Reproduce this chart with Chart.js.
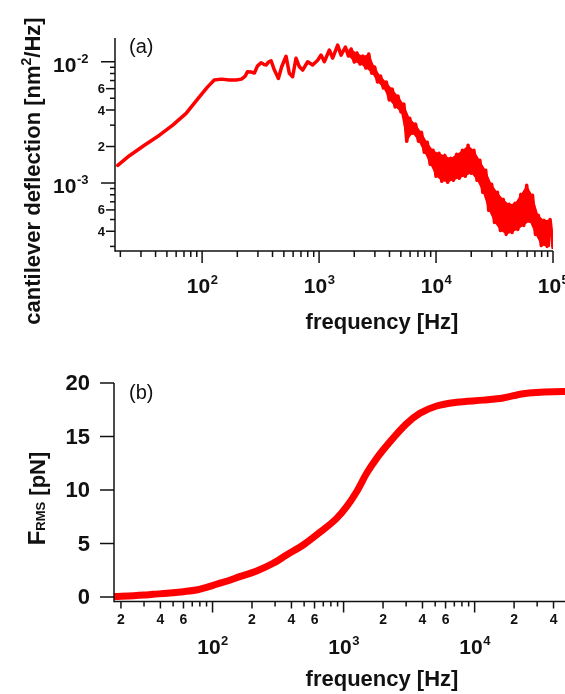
<!DOCTYPE html>
<html>
<head>
<meta charset="utf-8">
<script src="https://cdn.jsdelivr.net/npm/chart.js@4"></script>
<style>
  html, body { margin: 0; padding: 0; background: #fff; overflow: hidden; width: 565px; height: 694px; }
  canvas { position: absolute; left: 0; }
  #psdChart { top: 0; }
  #forceChart { top: 345px; }
</style>
</head>
<body>
<canvas id="psdChart" width="620" height="345"></canvas>
<canvas id="forceChart" width="620" height="349"></canvas>
<script>
// ===== DATA (a): deflection spectrum =====
const psdFreq = [
  19, 23.9, 32.1, 43.2, 56.1, 73, 94.8, 111, 127, 146, 171, 196, 217, 234, 244, 264, 280,
  297, 319, 334, 352, 369, 389, 415, 449, 479, 522, 557, 594, 635, 679, 724, 799, 881, 973, 1040, 1109, 1225, 1306, 1442, 1542,
  1680, 1780, 1880, 2000, 2110, 2240, 2370, 2510, 2660, 2820, 2990, 3160, 3350, 3550, 3760, 3980,
  4220, 4470, 4730, 5010, 5310, 5620, 5960, 6310, 6680, 7080, 7500, 7940, 8410, 8910, 9440, 10000,
  10600, 11200, 11900, 12600, 13300, 14100, 15000, 15800, 16800, 17800, 18800, 20000, 21100, 22400,
  23700, 25100, 26600, 28200, 29900, 31600, 33500, 35500, 37600, 39800, 42200, 44700, 47300, 50100,
  53100, 56200, 59600, 63100, 66800, 70800, 75000, 79400, 84100, 89100, 94400, 100000
];
const psdValue = [
  1.40e-3, 1.68e-3, 2.05e-3, 2.48e-3, 3.00e-3, 3.75e-3, 5.14e-3, 6.18e-3, 7.06e-3, 7.19e-3, 7.06e-3, 7.06e-3, 7.19e-3, 7.62e-3, 8.27e-3, 8.22e-3, 8.07e-3,
  9.21e-3, 9.81e-3, 9.57e-3, 9.39e-3, 9.94e-3, 1.02e-2, 8.54e-3, 7.29e-3, 9.09e-3, 1.11e-2, 8.02e-3, 7.52e-3, 1.07e-2, 9.09e-3, 8.54e-3, 1.0e-2, 9.39e-3, 1.03e-2, 1.135e-2, 1.0e-2, 1.25e-2, 1.07e-2, 1.37e-2, 1.135e-2,
  1.323e-2, 1.114e-2, 1.274e-2, 9.94e-3, 1.180e-2, 9.57e-3, 1.114e-2, 8.87e-3, 1.158e-2, 8.06e-3, 9.04e-3, 6.81e-3, 7.63e-3, 6.07e-3, 6.81e-3, 4.83e-3,
  5.95e-3, 4.23e-3, 5.21e-3, 3.85e-3, 4.47e-3, 2.21e-3, 3.42e-3, 2.57e-3, 3.06e-3, 2.21e-3, 2.62e-3, 1.79e-3, 2.17e-3, 1.43e-3, 1.86e-3, 1.136e-3,
  1.76e-3, 1.033e-3, 1.69e-3, 1.013e-3, 1.60e-3, 1.053e-3, 1.73e-3, 1.093e-3, 1.86e-3, 1.136e-3, 2.05e-3, 1.203e-3, 1.86e-3, 1.053e-3,
  1.54e-3, 8.38e-4, 1.274e-3, 5.95e-4, 9.76e-4, 4.73e-4, 8.38e-4, 4.06e-4, 7.33e-4, 3.77e-4, 6.67e-4, 3.91e-4, 6.80e-4, 4.14e-4,
  8.06e-4, 4.47e-4, 9.57e-4, 4.83e-4, 7.91e-4, 3.77e-4, 5.41e-4, 3.05e-4, 4.92e-4, 3.00e-4, 5.01e-4, 2.94e-4
];
// from 1680 Hz on the trace alternates top / bottom of the noise band
const psdBandStart = 41;

// ===== DATA (b): RMS force =====
const forceFreq = [18, 25, 30, 35, 45, 60, 75, 90, 107, 130, 161, 217, 290, 367, 492, 659, 885, 1055, 1257, 1500, 1787, 2256, 3027, 3822, 5128, 7290, 11650, 16530, 23490, 47400, 90000];
const forceValue = [0.05, 0.12, 0.18, 0.25, 0.35, 0.5, 0.65, 0.9, 1.19, 1.5, 1.9, 2.43, 3.15, 3.93, 4.86, 6.05, 7.35, 8.44, 9.84, 11.56, 12.96, 14.5, 16.2, 17.17, 17.85, 18.2, 18.4, 18.6, 19.0, 19.2, 19.25];

// ===== TICK LABELS =====
const psdXDecades = [2, 3, 4, 5];
const psdYDecades = [-3, -2];
const psdYMinorLabels = [2, 4, 6];
const forceYTicks = [0, 5, 10, 15, 20];
const forceXDecades = [2, 3, 4];
const forceXMinorLabels = [2, 4, 6];

const FONT = '"Liberation Sans", Arial, sans-serif';
const INK = "#111";
const RED = "#ff0000";

// ===== DRAW HELPERS =====
function line(ctx, x1, y1, x2, y2) {
  ctx.beginPath();
  ctx.moveTo(x1, y1);
  ctx.lineTo(x2, y2);
  ctx.stroke();
}

// "10" with a raised exponent
function powerLabel(ctx, exp, x, y, align) {
  ctx.font = "bold 21px " + FONT;
  const w1 = ctx.measureText("10").width;
  ctx.font = "bold 13px " + FONT;
  const w2 = ctx.measureText(String(exp)).width;
  const x0 = align === "right" ? x - w1 - w2 : x - (w1 + w2) / 2;
  ctx.textAlign = "left";
  ctx.textBaseline = "alphabetic";
  ctx.font = "bold 21px " + FONT;
  ctx.fillText("10", x0, y);
  ctx.font = "bold 13px " + FONT;
  ctx.fillText(String(exp), x0 + w1 + 0.5, y - 9);
}

// rotated title made of pieces with their own font / offset
function verticalTitle(ctx, parts, x, y) {
  ctx.save();
  ctx.translate(x, y);
  ctx.rotate(-Math.PI / 2);
  ctx.textAlign = "left";
  ctx.textBaseline = "alphabetic";
  let total = 0;
  parts.forEach(p => { ctx.font = p.font; total += ctx.measureText(p.text).width; });
  let cx = -total / 2;
  parts.forEach(p => {
    ctx.font = p.font;
    ctx.fillText(p.text, cx, p.dy || 0);
    cx += ctx.measureText(p.text).width;
  });
  ctx.restore();
}

function xTitle(ctx, y) {
  ctx.font = "bold 22px " + FONT;
  ctx.textAlign = "center";
  ctx.textBaseline = "alphabetic";
  ctx.fillText("frequency [Hz]", 382, y);
}

function panelTag(ctx, text, y) {
  ctx.font = "20px " + FONT;
  ctx.textAlign = "left";
  ctx.textBaseline = "middle";
  ctx.fillText(text, 129, y);
}

// ===== AXES PLUGINS =====
const psdAxes = {
  id: "psdAxes",
  afterDraw(chart) {
    const { ctx, chartArea: a, scales: { x, y } } = chart;
    ctx.save();
    ctx.strokeStyle = INK;
    ctx.fillStyle = INK;
    ctx.lineWidth = 1.5;
    line(ctx, a.left, a.top, a.left, a.bottom + 0.75);
    line(ctx, a.left, a.bottom, a.right, a.bottom);

    for (let d = 1; d <= 5; d++) {
      for (let m = 1; m <= 9; m++) {
        const v = m * Math.pow(10, d);
        if (v < x.min || v > x.max * 1.0001) continue;
        const px = x.getPixelForValue(v);
        line(ctx, px, a.bottom, px, a.bottom + (m === 1 ? 12 : 6));
      }
    }
    psdXDecades.forEach(d => {
      powerLabel(ctx, d, x.getPixelForValue(Math.pow(10, d)), a.bottom + 42, "center");
    });

    for (let d = -4; d <= -2; d++) {
      for (let m = 1; m <= 9; m++) {
        const v = m * Math.pow(10, d);
        if (v < y.min || v > y.max) continue;
        const py = y.getPixelForValue(v);
        const labelled = psdYMinorLabels.includes(m);
        line(ctx, a.left - (m === 1 ? 14 : labelled ? 9 : 5), py, a.left, py);
        if (labelled) {
          ctx.font = "bold 13px " + FONT;
          ctx.textAlign = "right";
          ctx.textBaseline = "middle";
          ctx.fillText(String(m), a.left - 10, py + 1);
        }
      }
    }
    psdYDecades.forEach(d => {
      powerLabel(ctx, d, 88, y.getPixelForValue(Math.pow(10, d)) + 10, "right");
    });

    xTitle(ctx, 329);
    verticalTitle(ctx, [
      { text: "cantilever deflection [nm", font: "bold 22px " + FONT },
      { text: "2", font: "bold 14px " + FONT, dy: -9 },
      { text: "/Hz]", font: "bold 22px " + FONT }
    ], 40, 171);
    panelTag(ctx, "(a)", 47);
    ctx.restore();
  }
};

const forceAxes = {
  id: "forceAxes",
  afterDraw(chart) {
    const { ctx, chartArea: a, scales: { x, y } } = chart;
    ctx.save();
    ctx.strokeStyle = INK;
    ctx.fillStyle = INK;
    ctx.lineWidth = 1.5;
    line(ctx, a.left, a.top, a.left, a.bottom + 0.75);
    line(ctx, a.left, a.bottom, a.right, a.bottom);

    forceYTicks.forEach(v => {
      const py = y.getPixelForValue(v);
      line(ctx, a.left - 14, py, a.left, py);
      ctx.font = "bold 22px " + FONT;
      ctx.textAlign = "right";
      ctx.textBaseline = "middle";
      ctx.fillText(String(v), 90, py + 1);
    });

    for (let d = 1; d <= 4; d++) {
      for (let m = 1; m <= 9; m++) {
        const v = m * Math.pow(10, d);
        if (v < x.min || v > x.max) continue;
        const px = x.getPixelForValue(v);
        const labelled = forceXMinorLabels.includes(m);
        line(ctx, px, a.bottom, px, a.bottom + (m === 1 ? 11 : labelled ? 7 : 5));
        if (labelled) {
          ctx.font = "bold 14px " + FONT;
          ctx.textAlign = "center";
          ctx.textBaseline = "middle";
          ctx.fillText(String(m), px, a.bottom + 19);
        }
      }
    }
    forceXDecades.forEach(d => {
      powerLabel(ctx, d, x.getPixelForValue(Math.pow(10, d)), a.bottom + 52, "center");
    });

    xTitle(ctx, 341);
    verticalTitle(ctx, [
      { text: "F", font: "bold 24px " + FONT },
      { text: "RMS", font: "bold 13px " + FONT },
      { text: " [pN]", font: "bold 22px " + FONT }
    ], 45, 153.5);
    panelTag(ctx, "(b)", 48);
    ctx.restore();
  }
};

function hiddenScale(type, min, max, fit) {
  return {
    type: type,
    min: min,
    max: max,
    grid: { display: false },
    border: { display: false },
    ticks: { display: false },
    afterFit: fit
  };
}

// ===== CHART (a) =====
const psdPoints = psdFreq.map((f, i) => ({ x: f, y: psdValue[i] }));
const bandPoints = psdPoints.slice(psdBandStart);
const bandTop = bandPoints.filter((p, i) => i % 2 === 0);
const bandBottom = bandPoints.filter((p, i) => i % 2 === 1);

new Chart(document.getElementById("psdChart").getContext("2d"), {
  type: "line",
  data: {
    datasets: [
      { data: bandTop, borderWidth: 0, pointRadius: 0, fill: false },
      { data: bandBottom, borderWidth: 0, pointRadius: 0, fill: "-1", backgroundColor: RED },
      {
        data: psdPoints,
        borderColor: RED,
        borderWidth: 3.5,
        pointRadius: 0,
        tension: 0,
        borderJoinStyle: "round",
        borderCapStyle: "round"
      }
    ]
  },
  options: {
    responsive: false,
    animation: false,
    layout: { padding: { top: 38, right: 67, left: 0, bottom: 0 } },
    plugins: { legend: { display: false }, tooltip: { enabled: false } },
    scales: {
      x: hiddenScale("logarithmic", 18, 100000, s => { s.height = 94; }),
      y: hiddenScale("logarithmic", 2.75e-4, 1.57e-2, s => { s.width = 115; })
    }
  },
  plugins: [psdAxes]
});

// ===== CHART (b) =====
new Chart(document.getElementById("forceChart").getContext("2d"), {
  type: "line",
  data: {
    datasets: [{
      data: forceFreq.map((f, i) => ({ x: f, y: forceValue[i] })),
      borderColor: RED,
      borderWidth: 7,
      pointRadius: 0,
      cubicInterpolationMode: "monotone",
      borderCapStyle: "round"
    }]
  },
  options: {
    responsive: false,
    animation: false,
    layout: { padding: { top: 38, right: 20, left: 0, bottom: 0 } },
    plugins: { legend: { display: false }, tooltip: { enabled: false } },
    scales: {
      x: hiddenScale("logarithmic", 17.7, 90500, s => { s.height = 92.5; }),
      y: hiddenScale("linear", -0.42, 20, s => { s.width = 114; })
    }
  },
  plugins: [forceAxes]
});
</script>
</body>
</html>
